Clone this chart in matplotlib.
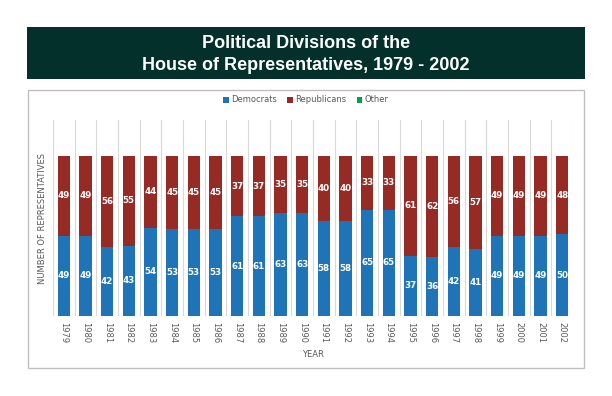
import matplotlib
matplotlib.use("Agg")
import matplotlib.pyplot as plt
from matplotlib.patches import Rectangle

years = ["1979", "1980", "1981", "1982", "1983", "1984", "1985", "1986",
         "1987", "1988", "1989", "1990", "1991", "1992", "1993", "1994",
         "1995", "1996", "1997", "1998", "1999", "2000", "2001", "2002"]
democrats = [49, 49, 42, 43, 54, 53, 53, 53, 61, 61, 63, 63, 58, 58, 65, 65,
             37, 36, 42, 41, 49, 49, 49, 50]
republicans = [49, 49, 56, 55, 44, 45, 45, 45, 37, 37, 35, 35, 40, 40, 33, 33,
               61, 62, 56, 57, 49, 49, 49, 48]
other = [0] * 24

C_DEM = "#1F74B8"
C_REP = "#962B25"
C_OTH = "#00A050"

W, H = 612, 396
fig = plt.figure(figsize=(W / 100, H / 100), dpi=100)
fig.patch.set_facecolor("white")

def fx(px):
    return px / W

def fy(py):
    return 1 - py / H

# Title box
fig.patches.append(Rectangle((fx(27), fy(79)), fx(585) - fx(27), fy(27) - fy(79),
                             transform=fig.transFigure, facecolor="#03302A",
                             edgecolor="none", zorder=0))
fig.text(fx(306), fy(44), "Political Divisions of the", ha="center", va="center",
         color="white", fontsize=13, fontweight="bold", family="Liberation Sans")
fig.text(fx(306), fy(66), "House of Representatives, 1979 - 2002", ha="center",
         va="center", color="white", fontsize=13, fontweight="bold",
         family="Liberation Sans")

# Panel border
fig.patches.append(Rectangle((fx(27.5), fy(368)), fx(584) - fx(27.5), fy(90) - fy(368),
                             transform=fig.transFigure, facecolor="none",
                             edgecolor="#BFBFBF", linewidth=1.0, zorder=0))

ax = fig.add_axes([fx(53), fy(316), fx(573) - fx(53), fy(120) - fy(316)])
x = list(range(len(years)))
bw = 0.56
ax.bar(x, democrats, width=bw, color=C_DEM, label="Democrats", zorder=3)
ax.bar(x, republicans, width=bw, bottom=democrats, color=C_REP,
       label="Republicans", zorder=3)
tot = [d + r for d, r in zip(democrats, republicans)]
ax.bar(x, other, width=bw, bottom=tot, color=C_OTH, label="Other", zorder=3)

for i in x:
    ax.text(i, democrats[i] / 2, str(democrats[i]), ha="center", va="center",
            color="white", fontsize=6.3, fontweight="bold", zorder=4)
    ax.text(i, democrats[i] + republicans[i] / 2, str(republicans[i]),
            ha="center", va="center", color="white", fontsize=6.3,
            fontweight="bold", zorder=4)

ax.set_xlim(-0.5, len(years) - 0.5)
ax.set_ylim(0, 120)
for b in range(len(years) + 1):
    ax.axvline(b - 0.5, color="#D9D9D9", linewidth=0.8, zorder=1)
for s in ax.spines.values():
    s.set_visible(False)
ax.axhline(0, color="#D9D9D9", linewidth=0.8, zorder=2)
ax.set_yticks([])
ax.set_xticks(x)
ax.set_xticklabels(years, rotation=270, fontsize=6, color="#595959")
ax.tick_params(axis="x", length=0, pad=4)
ax.set_xlabel("YEAR", fontsize=6, color="#595959", labelpad=5)
ax.set_ylabel("NUMBER OF REPRESENTATIVES", fontsize=6, color="#595959", labelpad=4)

leg = fig.legend(loc="center", bbox_to_anchor=(fx(306), fy(100)), ncol=3,
                 fontsize=6, frameon=False, handlelength=0.7, handleheight=0.7,
                 handletextpad=0.3, columnspacing=1.2)
for t in leg.get_texts():
    t.set_color("#595959")

fig.savefig("out.png", dpi=100, facecolor="white")
